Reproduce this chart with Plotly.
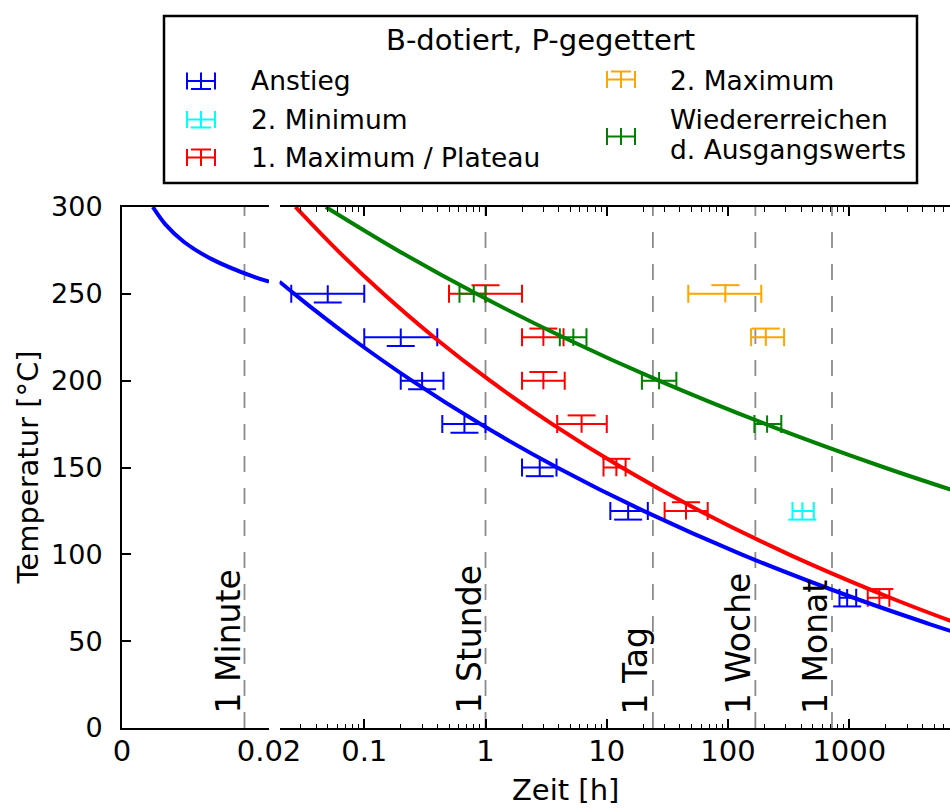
import numpy as np
import plotly.graph_objects as go

W, H = 950, 808


def px(x):
    return x / W


def py(y):
    return 1 - y / H


FONT = "DejaVu Sans"

# ---------------- data ----------------
# Anstieg (rise)
rise_t = [0.05, 0.2, 0.3, 0.67, 2.8, 15, 960]
rise_T = [250, 225, 200, 175, 150, 125, 75]
rise_lo = [0.025, 0.1, 0.2, 0.44, 2.0, 10.7, 830]
rise_hi = [0.1, 0.4, 0.45, 1.0, 3.85, 21.8, 1140]

# 2. Minimum
min2_t = [410]
min2_T = [125]
min2_lo = [340]
min2_hi = [510]

# 1. Maximum / Plateau
max1_t = [1.0, 3.0, 3.0, 6.2, 12, 45, 1770]
max1_T = [250, 225, 200, 175, 150, 125, 75]
max1_lo = [0.5, 2.0, 2.0, 3.9, 9.4, 30, 1420]
max1_hi = [2.0, 4.4, 4.5, 10, 14.3, 68, 2140]

# 2. Maximum
max2_t = [95, 205]
max2_T = [250, 225]
max2_lo = [47, 155]
max2_hi = [188, 290]

# Wiedererreichen d. Ausgangswerts
back_t = [0.8, 5.3, 27, 210]
back_T = [250, 225, 200, 175]
back_lo = [0.61, 4.1, 19.5, 165]
back_hi = [1.0, 6.8, 37.5, 275]

# temperature uncertainty (°C)
T_ERR = 5

# fitted curves (time in h, temperature in °C)
fit_rise_t = [0.0042, 0.0059, 0.0084, 0.0122, 0.0178, 0.02, 0.0265, 0.040,
              0.0765, 0.247, 0.909, 3.90, 20.1, 129, 1084, 4530, 7500]
fit_rise_T = [300, 290, 280, 270, 260, 257, 250, 240,
              225, 200, 175, 150, 125, 100, 75, 60, 55]
fit_max1_t = [0.0271, 0.0601, 0.144, 0.376, 1.09, 3.55, 13.3, 58.7, 317, 2180, 7950]
fit_max1_T = [300, 275, 250, 225, 200, 175, 150, 125, 100, 75, 60]
fit_back_t = [0.0482, 0.189, 0.842, 4.37, 26.9, 204, 1950, 8670]
fit_back_T = [300, 275, 250, 225, 200, 175, 150, 135]

# reference durations
mark_labels = ["1 Minute", "1 Stunde", "1 Tag", "1 Woche", "1 Monat"]
mark_hours = [1 / 60, 1, 24, 168, 720]

# axis ticks
xl_ticks = [0, 0.02]
xl_ticktext = ["0", "0.02"]
xr_ticks = [0.1, 1, 10, 100, 1000]
xr_ticktext = ["0.1", "1", "10", "100", "1000"]
xr_minor = [m * 10.0 ** e for e in range(-2, 4) for m in range(2, 10)]
T_ticks = [0, 50, 100, 150, 200, 250, 300]

# ---------------- geometry ----------------
X_SPLIT = 0.02
Y_DOM = [py(728), py(207)]
XL_DOM = [px(122), px(269)]
XR_DOM = [px(279.5), 1.0]
XL_RANGE = [0, X_SPLIT]
XR_RANGE = [np.log10(X_SPLIT), 3.8305]
T_RANGE = [0, 300]

BLUE = "#0000ff"
CYAN = "#00ffff"
RED = "#ff0000"
ORANGE = "#ffa500"
GREEN = "#008000"
DASH_GRAY = "#8c8c8c"

fig = go.Figure()

# dashed reference lines
for lab, h in zip(mark_labels, mark_hours):
    left = h <= X_SPLIT
    fig.add_trace(go.Scatter(
        x=[h, h], y=T_RANGE, mode="lines",
        line=dict(color=DASH_GRAY, width=1.8, dash="16px,16px"),
        xaxis="x" if left else "x2", yaxis="y" if left else "y2",
        hoverinfo="skip"))


def add_points(t, T, lo, hi, color, cap):
    fig.add_trace(go.Scatter(
        x=t, y=T, mode="markers",
        marker=dict(size=1, color="rgba(0,0,0,0)"),
        error_x=dict(type="data", symmetric=False,
                     array=[h - v for h, v in zip(hi, t)],
                     arrayminus=[v - l for v, l in zip(t, lo)],
                     color=color, thickness=2, width=9),
        error_y=dict(type="data", array=[T_ERR] * len(T),
                     color=color, thickness=2, width=0),
        xaxis="x2", yaxis="y2", hoverinfo="skip"))
    if cap is not None:
        sign = -1 if cap == "bottom" else 1
        fig.add_trace(go.Scatter(
            x=t, y=[v + sign * T_ERR for v in T], mode="markers",
            marker=dict(symbol="line-ew", size=20, color=color,
                        line=dict(width=2, color=color)),
            xaxis="x2", yaxis="y2", hoverinfo="skip"))


add_points(rise_t, rise_T, rise_lo, rise_hi, BLUE, "bottom")
add_points(min2_t, min2_T, min2_lo, min2_hi, CYAN, "bottom")
add_points(max1_t, max1_T, max1_lo, max1_hi, RED, "top")
add_points(max2_t, max2_T, max2_lo, max2_hi, ORANGE, "top")
add_points(back_t, back_T, back_lo, back_hi, GREEN, None)


def add_curve(t, T, color):
    lt = [(a, b) for a, b in zip(t, T) if a <= X_SPLIT]
    rt = [(a, b) for a, b in zip(t, T) if a >= X_SPLIT]
    if len(lt) > 1:
        fig.add_trace(go.Scatter(
            x=[a for a, _ in lt], y=[b for _, b in lt], mode="lines",
            line=dict(color=color, width=4, shape="spline"),
            xaxis="x", yaxis="y", hoverinfo="skip"))
    fig.add_trace(go.Scatter(
        x=[a for a, _ in rt], y=[b for _, b in rt], mode="lines",
        line=dict(color=color, width=4, shape="spline"),
        xaxis="x2", yaxis="y2", hoverinfo="skip"))


add_curve(fit_rise_t, fit_rise_T, BLUE)
add_curve(fit_max1_t, fit_max1_T, RED)
add_curve(fit_back_t, fit_back_T, GREEN)

# ---------------- legend box ----------------
shapes = [dict(type="rect", xref="paper", yref="paper",
               x0=px(164), x1=px(917), y0=py(183), y1=py(16),
               line=dict(color="black", width=2.5), fillcolor="white",
               layer="above")]


def seg(x0, y0, x1, y1, color):
    shapes.append(dict(type="line", xref="paper", yref="paper",
                       x0=px(x0), y0=py(y0), x1=px(x1), y1=py(y1),
                       line=dict(color=color, width=2), layer="above"))


def legend_icon(cx, cy, color, cap):
    seg(cx - 14, cy, cx + 14, cy, color)
    seg(cx - 14, cy - 8.5, cx - 14, cy + 8.5, color)
    seg(cx + 14, cy - 8.5, cx + 14, cy + 8.5, color)
    seg(cx, cy - 8.5, cx, cy + 8.5, color)
    if cap == "bottom":
        seg(cx - 10, cy + 8, cx + 10, cy + 8, color)
    elif cap == "top":
        seg(cx - 10, cy - 8, cx + 10, cy - 8, color)


annotations = []


def text(x, y, s, size=26.5, **kw):
    d = dict(xref="paper", yref="paper", x=px(x), y=py(y), text=s,
             showarrow=False, font=dict(family=FONT, size=size, color="black"))
    d.update(kw)
    annotations.append(d)


text(540, 40, "B-dotiert, P-gegettert", size=29, xanchor="center",
     yanchor="middle")
legend_rows = [
    (201, 81, BLUE, "bottom", 249, [(81, "Anstieg")]),
    (201, 119.5, CYAN, "bottom", 249, [(119.5, "2. Minimum")]),
    (201, 157.5, RED, "top", 249, [(157.5, "1. Maximum / Plateau")]),
    (621, 79.5, ORANGE, "top", 668, [(81, "2. Maximum")]),
    (621, 136.5, GREEN, None, 668, [(119, "Wiedererreichen"),
                                    (149, "d. Ausgangswerts")]),
]
for cx, cy, col, cap, tx, lines in legend_rows:
    legend_icon(cx, cy, col, cap)
    for ly, s in lines:
        text(tx, ly, s, xanchor="left", yanchor="middle")

# axis titles
text(565, 790, "Zeit [h]", size=29, xanchor="center", yanchor="middle")
text(27, 467.5, "Temperatur [°C]", size=29, xanchor="center",
     yanchor="middle", textangle=-90)

# duration labels next to the dashed lines
for lab, h in zip(mark_labels, mark_hours):
    left = h <= X_SPLIT
    annotations.append(dict(
        xref="x" if left else "x2", yref="paper",
        x=h if left else np.log10(h), y=py(716),
        text=lab, showarrow=False, textangle=-90,
        xanchor="center", yanchor="bottom", xshift=-17,
        font=dict(family=FONT, size=33, color="black")))

axis_common = dict(showgrid=False, zeroline=False, showline=True,
                   linecolor="black", linewidth=2, ticks="inside",
                   ticklen=9, tickwidth=1.5, tickcolor="black",
                   automargin=False)
x_tickfont = dict(family=FONT, size=29, color="black")
y_tickfont = dict(family=FONT, size=27, color="black")

fig.update_layout(
    template="none",
    autosize=False,
    width=W, height=H,
    margin=dict(l=0, r=0, t=0, b=0, pad=0, autoexpand=False),
    paper_bgcolor="white", plot_bgcolor="white",
    showlegend=False,
    xaxis=dict(domain=XL_DOM, range=XL_RANGE, anchor="y", mirror="ticks",
               tickmode="array", tickvals=xl_ticks, ticktext=xl_ticktext,
               ticklabelstandoff=-4, tickfont=x_tickfont, **axis_common),
    xaxis2=dict(type="log", domain=XR_DOM, range=XR_RANGE, anchor="y2",
                mirror="ticks", tickmode="array", tickvals=xr_ticks,
                ticktext=xr_ticktext, ticklabelstandoff=-4,
                tickfont=x_tickfont,
                minor=dict(tickmode="array", tickvals=xr_minor, ticks="inside",
                           ticklen=4.5, tickwidth=1.2, tickcolor="black",
                           showgrid=False),
                **axis_common),
    yaxis=dict(domain=Y_DOM, range=T_RANGE, anchor="x", tickmode="array",
               tickvals=T_ticks, ticklabelstandoff=12, tickfont=y_tickfont,
               **axis_common),
    yaxis2=dict(domain=Y_DOM, range=T_RANGE, anchor="x2", showline=False,
                showticklabels=False, ticks="", showgrid=False,
                zeroline=False, automargin=False),
    shapes=shapes,
    annotations=annotations,
)

fig.write_html("out.html")
